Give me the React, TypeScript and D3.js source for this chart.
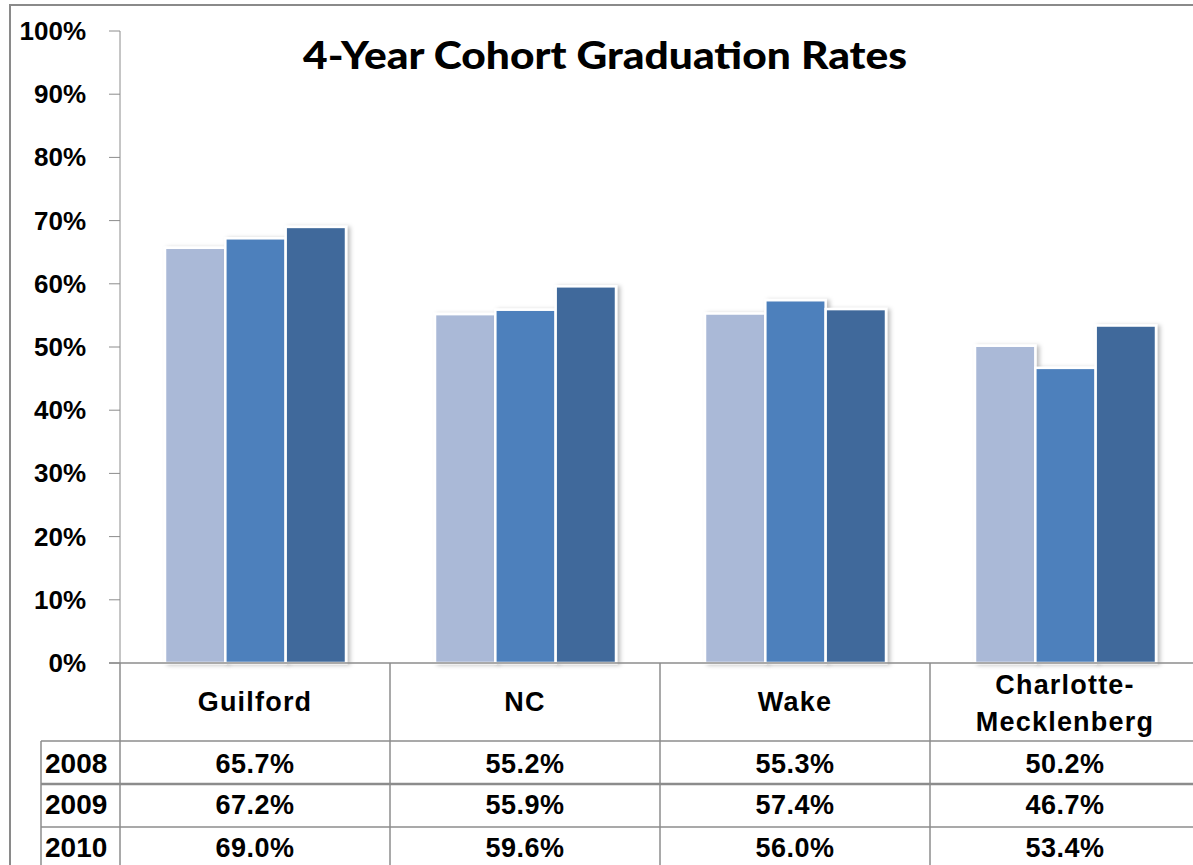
import React, { useEffect } from 'react';
import * as d3 from 'd3';

// chart data
const categories = ['Guilford', 'NC', 'Wake', 'Charlotte-Mecklenberg'];
const categoryLines = [['Guilford'], ['NC'], ['Wake'], ['Charlotte-', 'Mecklenberg']];
const years = ['2008', '2009', '2010'];
const rates2008 = [65.7, 55.2, 55.3, 50.2];
const rates2009 = [67.2, 55.9, 57.4, 46.7];
const rates2010 = [69.0, 59.6, 56.0, 53.4];
const yTicks = [0, 10, 20, 30, 40, 50, 60, 70, 80, 90, 100];
const seriesColors = ['#aab9d7', '#4d80bc', '#3f699b'];

const W = 1193;
const H = 865;
const FONT = '"Liberation Sans", Arial, sans-serif';

const App = () => {
  useEffect(() => {
    document.body.style.margin = '0';
  }, []);

  const series = [rates2008, rates2009, rates2010];

  const y = d3.scaleLinear().domain([0, 100]).range([663, 31]);
  const x0 = d3.scaleBand().domain(categories).range([120, 1200]).padding(0);
  const x1 = d3.scaleBand().domain(years).range([45, 226]).padding(0);

  const rowTops = [741, 784, 827];
  const rowBaselines = [773, 814, 857];
  const gridColor = '#8c8c8c';

  return (
    <svg width={W} height={H} style={{ display: 'block', background: '#fff' }}>
      <defs>
        <filter id="shadow" x="-20%" y="-20%" width="140%" height="140%">
          <feDropShadow dx="3" dy="1" stdDeviation="2" floodColor="#000" floodOpacity="0.25" />
        </filter>
      </defs>

      {/* outer frame */}
      <line x1={10} x2={10} y1={4} y2={H} stroke="#8a8a8a" strokeWidth={2} />
      <line x1={9} x2={W} y1={5} y2={5} stroke="#8a8a8a" strokeWidth={2} />

      {/* title */}
      <text x={605} y={69} textAnchor="middle" fontFamily="Lato, 'Open Sans', sans-serif" fontWeight={900} fontSize={38}
        textLength={604} lengthAdjust="spacingAndGlyphs" fill="#000">
        4-Year Cohort Graduation Rates
      </text>

      {/* y axis */}
      <line x1={120} x2={120} y1={y(100)} y2={y(0)} stroke={gridColor} strokeWidth={1} />
      {yTicks.map((t) => (
        <g key={t}>
          <line x1={109} x2={120} y1={y(t)} y2={y(t)} stroke={gridColor} strokeWidth={1} />
          <text x={86} y={y(t) + 9} textAnchor="end" fontFamily={FONT} fontWeight="bold" fontSize={26} fill="#000">
            {t}%
          </text>
        </g>
      ))}

      {/* bars */}
      {categories.map((c, ci) => (
        <g key={c} transform={`translate(${x0(c)},0)`}>
          {years.map((yr, si) => {
            const v = series[si][ci];
            return (
              <rect key={yr} x={x1(yr)} y={y(v)} width={x1.bandwidth()} height={y(0) - y(v)}
                fill={seriesColors[si]} stroke="#fff" strokeWidth={2.5} filter="url(#shadow)" />
            );
          })}
        </g>
      ))}

      {/* data table */}
      <line x1={109} x2={W} y1={663} y2={663} stroke={gridColor} strokeWidth={1.5} />
      {categories.map((c) => (
        <line key={c} x1={x0(c)} x2={x0(c)} y1={663} y2={H} stroke={gridColor} strokeWidth={1.5} />
      ))}
      <line x1={41} x2={41} y1={741} y2={H} stroke={gridColor} strokeWidth={1.5} />
      {rowTops.map((r, i) => (
        <line key={r} x1={41} x2={W} y1={r} y2={r} stroke={gridColor} strokeWidth={i === 1 ? 2.5 : 1.5} />
      ))}

      {categories.map((c, ci) => {
        const lines = categoryLines[ci];
        const cx = x0(c) + x0.bandwidth() / 2;
        const base = lines.length === 1 ? [711] : [694, 731];
        return lines.map((ln, li) => (
          <text key={c + li} x={cx} y={base[li]} textAnchor="middle" fontFamily={FONT} fontWeight="bold"
            fontSize={27} letterSpacing={1.2} fill="#000">
            {ln}
          </text>
        ));
      })}

      {years.map((yr, si) => (
        <g key={yr}>
          <text x={45} y={rowBaselines[si]} fontFamily={FONT} fontWeight="bold" fontSize={28} fill="#000">
            {yr}
          </text>
          {categories.map((c, ci) => (
            <text key={c} x={x0(c) + x0.bandwidth() / 2} y={rowBaselines[si]} textAnchor="middle"
              fontFamily={FONT} fontWeight="bold" fontSize={27} letterSpacing={0.5} fill="#000">
              {series[si][ci].toFixed(1)}%
            </text>
          ))}
        </g>
      ))}
    </svg>
  );
};

export default App;
